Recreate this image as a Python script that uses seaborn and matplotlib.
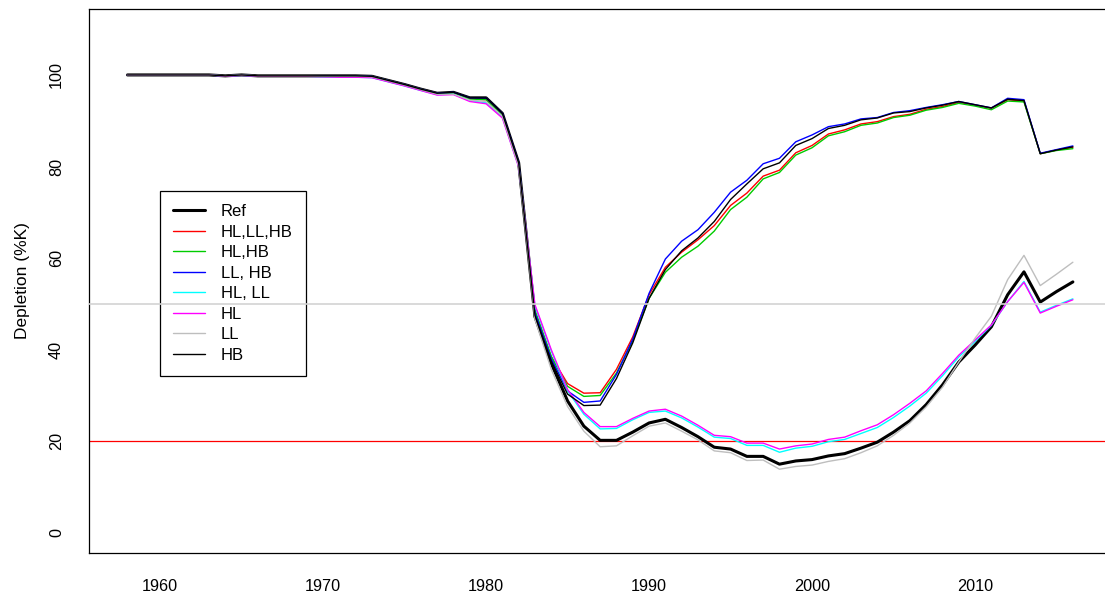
import seaborn as sns
import matplotlib.pyplot as plt
import matplotlib.lines as mlines
import numpy as np

# years 1958-2016
years = np.arange(1958, 2017)

ref = [100, 100, 100, 100, 100, 100, 99.8, 100.0, 99.8, 99.8, 99.8, 99.8, 99.8, 99.8, 99.8, 99.7,
       98.8, 97.9, 96.9, 96.0, 96.2, 95.0, 95.0, 91.6, 80.8,
       47.2, 37.0, 28.8, 23.3, 20.2, 20.2, 22.0, 24.0, 24.8, 23.0, 21.0, 18.7, 18.3, 16.7, 16.7,
       15.0, 15.7, 16.0, 16.8, 17.3, 18.5, 19.8, 22.0, 24.5, 28.0, 32.3, 37.3, 41.0, 45.0, 52.0,
       57.0, 50.4, 52.7, 54.8]
hl_ll_hb = [100, 100, 100, 100, 100, 100, 99.8, 100.0, 99.8, 99.8, 99.8, 99.8, 99.8, 99.8, 99.8, 99.7,
            98.8, 97.9, 96.9, 96.0, 96.0, 94.7, 94.6, 91.2, 80.5,
            48.5, 38.5, 32.6, 30.5, 30.6, 35.7, 42.8, 52.0, 58.0, 61.3, 64.0, 67.1, 71.5, 74.2, 77.9,
            79.2, 83.0, 84.6, 87.1, 88.0, 89.3, 89.8, 90.9, 91.4, 92.5, 93.1, 94.0, 93.4, 92.7, 94.6,
            94.3, 82.8, 83.6, 84.2]
hl_hb = [100, 100, 100, 100, 100, 100, 99.8, 100.0, 99.8, 99.8, 99.8, 99.8, 99.8, 99.8, 99.8, 99.7,
         98.8, 97.9, 96.9, 96.0, 96.0, 94.7, 94.6, 91.2, 80.5,
         48.5, 38.5, 32.0, 29.8, 30.0, 34.9, 42.0, 51.2, 56.9, 60.2, 62.6, 65.9, 70.6, 73.3, 77.3,
         78.7, 82.5, 84.1, 86.7, 87.6, 89.0, 89.5, 90.7, 91.2, 92.3, 92.9, 93.8, 93.2, 92.4, 94.3,
         94.1, 82.8, 83.5, 83.9]
ll_hb = [100, 100, 100, 100, 100, 100, 99.8, 100.0, 99.8, 99.8, 99.8, 99.8, 99.8, 99.8, 99.8, 99.7,
         98.8, 97.9, 96.9, 96.0, 96.2, 95.0, 95.0, 91.6, 80.8,
         48.0, 38.0, 31.0, 28.5, 28.8, 34.6, 42.3, 52.3, 59.8, 63.7, 66.2, 70.0, 74.4, 77.0, 80.6,
         81.8, 85.4, 86.9, 88.7, 89.3, 90.4, 90.7, 91.8, 92.2, 92.9, 93.5, 94.2, 93.5, 92.8, 94.9,
         94.6, 82.9, 83.7, 84.5]
hl_ll = [100, 100, 100, 100, 100, 100, 99.7, 99.9, 99.7, 99.7, 99.7, 99.7, 99.6, 99.5, 99.5, 99.4,
         98.5, 97.6, 96.6, 95.7, 95.8, 94.4, 93.9, 90.8, 80.0,
         49.5, 39.7, 31.0, 25.9, 22.7, 22.8, 24.7, 26.3, 26.6, 25.1, 23.1, 20.9, 20.6, 19.1, 19.1,
         17.6, 18.5, 18.9, 19.9, 20.4, 21.7, 23.0, 25.2, 27.7, 30.5, 34.3, 38.4, 41.8, 45.3, 50.5,
         54.9, 48.2, 49.7, 51.1]
hl = [100, 100, 100, 100, 100, 100, 99.7, 99.9, 99.7, 99.7, 99.7, 99.7, 99.6, 99.5, 99.5, 99.4,
      98.5, 97.6, 96.6, 95.6, 95.7, 94.2, 93.7, 90.6, 79.9,
      49.8, 40.0, 31.3, 26.3, 23.2, 23.2, 25.0, 26.6, 27.0, 25.5, 23.5, 21.3, 21.0, 19.6, 19.6,
      18.3, 19.0, 19.4, 20.4, 20.9, 22.3, 23.6, 25.8, 28.3, 31.0, 34.8, 38.8, 42.1, 45.4, 50.5,
      54.7, 48.0, 49.5, 50.9]
ll = [100, 100, 100, 100, 100, 100, 99.8, 100.0, 99.8, 99.8, 99.8, 99.8, 99.7, 99.7, 99.7, 99.6,
      98.7, 97.8, 96.8, 95.8, 95.8, 94.5, 94.2, 91.0, 80.2,
      46.6, 35.7, 27.6, 22.2, 18.8, 19.0, 21.2, 23.3, 24.0, 22.2, 20.3, 17.9, 17.5, 15.8, 15.9,
      13.9, 14.5, 14.8, 15.6, 16.2, 17.5, 19.0, 21.3, 24.0, 27.5, 31.8, 37.3, 42.5, 47.3, 55.3,
      60.6, 54.0, 56.5, 59.1]
hb = [100, 100, 100, 100, 100, 100, 99.8, 100.0, 99.8, 99.8, 99.8, 99.8, 99.8, 99.8, 99.8, 99.7,
      98.8, 97.9, 96.9, 96.0, 96.2, 95.0, 95.0, 91.6, 80.8,
      47.5, 37.5, 30.3, 27.8, 27.9, 33.7, 41.5, 51.2, 57.5, 61.6, 64.4, 68.0, 72.8, 76.2, 79.5,
      80.8, 84.6, 86.1, 88.3, 89.0, 90.2, 90.6, 91.7, 92.0, 92.8, 93.4, 94.2, 93.5, 92.8, 94.7,
      94.4, 82.8, 83.6, 84.3]

labels = ['Ref', 'HL,LL,HB', 'HL,HB', 'LL, HB', 'HL, LL', 'HL', 'LL', 'HB']
series = [ref, hl_ll_hb, hl_hb, ll_hb, hl_ll, hl, ll, hb]
colors = ['black', '#FF0000', '#00CC00', '#0000FF', '#00FFFF', '#FF00FF', '#BEBEBE', 'black']
widths = [2.2, 1, 1, 1, 1, 1, 1, 1]

sns.set_style('white')
plt.rcParams['font.family'] = ['Liberation Sans', 'DejaVu Sans']
plt.rcParams['text.color'] = 'black'
plt.rcParams['axes.labelcolor'] = 'black'
plt.rcParams['xtick.color'] = 'black'
plt.rcParams['ytick.color'] = 'black'

W, H = 1105, 592
fig = plt.figure(figsize=(W / 100, H / 100), dpi=100)
# axes box: left 89px, top 9px, bottom 553px; right edge falls just outside the image
x0, x1 = 1955.64, 2018.32
px_per_year = 16.3
ax = fig.add_axes([89 / W, 1 - 553 / H, (x1 - x0) * px_per_year / W, 544 / H])

for vals, col, lw in zip(series, colors, widths):
    sns.lineplot(x=years, y=vals, ax=ax, color=col, linewidth=lw)

ax.axhline(50, color='#D3D3D3', lw=1.2, zorder=6)
ax.axhline(20, color='#FF0000', lw=0.9, zorder=1)

ax.set_xlim(x0, x1)
ax.set_ylim(-4.4, 114.4)
ax.set_xticks([1960, 1970, 1980, 1990, 2000, 2010])
ax.set_yticks([0, 20, 40, 60, 80, 100])
ax.set_yticklabels(['0', '20', '40', '60', '80', '100'], rotation=90, va='center')
ax.tick_params(axis='both', direction='out', length=7, width=0.8, labelsize=11.7,
               color='black', labelcolor='black')
ax.tick_params(axis='x', pad=11.5)
ax.tick_params(axis='y', pad=11)
for s in ax.spines.values():
    s.set_visible(True)
    s.set_color('black')
    s.set_linewidth(0.9)
ax.set_xlabel('')
ax.set_ylabel('Depletion (%K)', fontsize=12.5, labelpad=14, color='black')

handles = [mlines.Line2D([], [], color=c, lw=w) for c, w in zip(colors, widths)]
leg = ax.legend(handles, labels, loc='upper left', bbox_to_anchor=(160 / W, 1 - 190.7 / H),
                bbox_transform=fig.transFigure, borderaxespad=0, fontsize=12,
                handlelength=1.9, handletextpad=0.95, labelspacing=0.33, borderpad=0.8,
                fancybox=False, framealpha=1, edgecolor='black', labelcolor='black')
leg.get_frame().set_linewidth(0.9)
leg.set_zorder(5)

fig.savefig('out.png', dpi=100)
